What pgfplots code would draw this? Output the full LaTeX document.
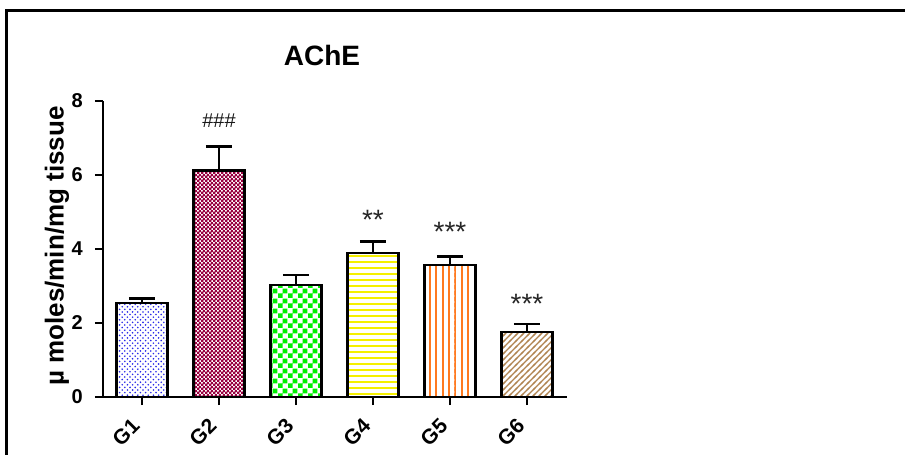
\documentclass[border=0pt]{standalone}
\usepackage{pgfplots}
\pgfplotsset{compat=1.18}
\usepackage{fontspec}
\setmainfont{Liberation Sans}
\usetikzlibrary{patterns}

\definecolor{cG1}{HTML}{2828E8}
\definecolor{cG2}{HTML}{98003F}
\definecolor{cG3}{HTML}{00F000}
\definecolor{cG4}{HTML}{F5F000}
\definecolor{cG5}{HTML}{FF7A20}
\definecolor{cG6}{HTML}{B08450}

\pgfdeclarepatternformonly{mydots}{\pgfqpoint{-0.5pt}{-0.5pt}}{\pgfqpoint{3.1pt}{3.1pt}}{\pgfqpoint{2.6pt}{2.6pt}}{%
  \pgfpathcircle{\pgfqpoint{0pt}{0pt}}{0.45pt}\pgfpathcircle{\pgfqpoint{1.3pt}{1.3pt}}{0.45pt}\pgfusepath{fill}}
\pgfdeclarepatternformonly{finechecker}{\pgfpointorigin}{\pgfqpoint{2.2pt}{2.2pt}}{\pgfqpoint{2.2pt}{2.2pt}}{%
  \pgfpathrectangle{\pgfpointorigin}{\pgfqpoint{1.3pt}{1.3pt}}\pgfpathrectangle{\pgfqpoint{1.1pt}{1.1pt}}{\pgfqpoint{1.3pt}{1.3pt}}\pgfusepath{fill}}
\pgfdeclarepatternformonly{bigchecker}{\pgfpointorigin}{\pgfqpoint{4.8pt}{4.8pt}}{\pgfqpoint{4.8pt}{4.8pt}}{%
  \pgfpathrectangle{\pgfpointorigin}{\pgfqpoint{2.4pt}{2.4pt}}\pgfpathrectangle{\pgfqpoint{2.4pt}{2.4pt}}{\pgfqpoint{2.4pt}{2.4pt}}\pgfusepath{fill}}
\pgfdeclarepatternformonly{hlines}{\pgfqpoint{-1pt}{0pt}}{\pgfqpoint{4pt}{3pt}}{\pgfqpoint{3pt}{3pt}}{%
  \pgfpathrectangle{\pgfqpoint{-1pt}{0pt}}{\pgfqpoint{5pt}{1pt}}\pgfusepath{fill}}
\pgfdeclarepatternformonly{vlines}{\pgfqpoint{0pt}{-1pt}}{\pgfqpoint{3.2pt}{4pt}}{\pgfqpoint{3.2pt}{3pt}}{%
  \pgfpathrectangle{\pgfqpoint{0pt}{-1pt}}{\pgfqpoint{1pt}{5pt}}\pgfusepath{fill}}
\pgfdeclarepatternformonly{nelines}{\pgfqpoint{-1pt}{-1pt}}{\pgfqpoint{4pt}{4pt}}{\pgfqpoint{3pt}{3pt}}{%
  \pgfsetlinewidth{0.7pt}\pgfpathmoveto{\pgfqpoint{-0.5pt}{-0.5pt}}\pgfpathlineto{\pgfqpoint{3.5pt}{3.5pt}}\pgfusepathqstroke}

\pgfplotsset{mybar/.style={draw=black, line width=1.2pt,
    error bars/y dir=plus, error bars/y explicit,
    error bars/error bar style={line width=1.2pt, black},
    error bars/error mark options={rotate=90, line width=1.2pt, black, mark size=6.5pt}}}

\begin{document}
\begin{tikzpicture}
\useasboundingbox (-51.5pt,-29pt) rectangle (401pt,198.5pt);
\draw[line width=1.5pt, line join=miter] (-48pt,-30pt) -- (-48pt,193pt) -- (402pt,193pt);
\begin{axis}[
  at={(0,0)}, anchor=south west,
  x=38.5pt, y=18.5pt,
  xmin=-0.506, xmax=5.52, ymin=0, ymax=8,
  axis x line*=bottom, axis y line*=left,
  axis line style={line width=1.2pt, black},
  tick style={line width=1.2pt, black},
  major tick length=4pt, tick align=outside,
  ytick={0,2,4,6,8},
  xtick={0,1,2,3,4,5},
  xticklabels={G1,G2,G3,G4,G5,G6},
  /pgf/number format/assume math mode=true,
  yticklabel style={font=\bfseries\fontsize{10}{11}\selectfont, xshift=-2.6pt},
  xticklabel style={xshift=-2.2pt, yshift=-7.8pt, rotate=45, anchor=east, inner sep=1pt, font=\bfseries\fontsize{10.5}{11}\selectfont},
  ylabel={µ moles/min/mg tissue},
  ylabel style={at={(axis description cs:-0.099,0.51)}, anchor=center, font=\bfseries\fontsize{13}{15}\selectfont},
  title={AChE},
  title style={at={(axis description cs:0.472,1)}, anchor=center, yshift=17pt, font=\bfseries\fontsize{14}{16}\selectfont},
  ybar, bar width=25.5pt, bar shift=0pt,
  clip=false,
]
\addplot[mybar, pattern=mydots, pattern color=cG1] coordinates {(0,2.54) +- (0,0.12)};
\addplot[mybar, pattern=finechecker, pattern color=cG2] coordinates {(1,6.12) +- (0,0.65)};
\addplot[mybar, pattern=bigchecker, pattern color=cG3] coordinates {(2,3.02) +- (0,0.27)};
\addplot[mybar, pattern=hlines, pattern color=cG4] coordinates {(3,3.89) +- (0,0.31)};
\addplot[mybar, pattern=vlines, pattern color=cG5] coordinates {(4,3.56) +- (0,0.24)};
\addplot[mybar, pattern=nelines, pattern color=cG6] coordinates {(5,1.76) +- (0,0.21)};
\node[font=\fontsize{10}{11}\selectfont, text=black!90] at (axis cs:1,7.47) {\#\#\#};
\node[font=\fontsize{14}{16}\selectfont, text=black!85] at (axis cs:3,4.78) {**};
\node[font=\fontsize{14}{16}\selectfont, text=black!85] at (axis cs:4,4.45) {***};
\node[font=\fontsize{14}{16}\selectfont, text=black!85] at (axis cs:5,2.52) {***};
\end{axis}
\end{tikzpicture}
\end{document}
